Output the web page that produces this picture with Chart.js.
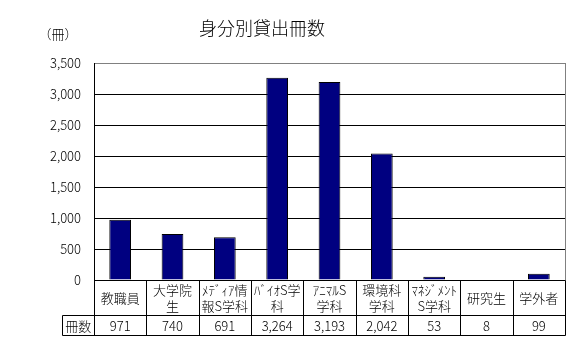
<!DOCTYPE html>
<html><head><meta charset="utf-8">
<script src="https://cdn.jsdelivr.net/npm/chart.js@4"></script>
<style>html,body{margin:0;padding:0;background:#fff}#wrap{width:580px;height:351px;position:relative}</style>
</head><body><div id="wrap"><canvas id="c" width="580" height="351"></canvas></div>
<script>
const title = "身分別貸出冊数";
const unitLabel = "（冊）";
const rowHeader = "冊数";
const categories = [["教職員"],["大学院","生"],["ﾒﾃﾞｨｱ情","報S学科"],["ﾊﾞｲｵS学","科"],["ｱﾆﾏﾙS","学科"],["環境科","学科"],["ﾏﾈｼﾞﾒﾝﾄ","S学科"],["研究生"],["学外者"]];
const values = [971,740,691,3264,3193,2042,53,8,99];
const yTicks = [0,500,1000,1500,2000,2500,3000,3500];

const FONT = '"Noto Sans CJK JP", "Liberation Sans", sans-serif';

const tablePlugin = {
  id: 'tablePlugin',
  afterDraw(chart) {
    const ctx = chart.ctx, ca = chart.chartArea, x = chart.scales.x;
    const n = categories.length;
    const step = (ca.right - ca.left) / n;
    const top = Math.round(ca.bottom) + 0.5;
    const mid = 315.5, bot = 335.5, tl = 62.5;
    ctx.save();
    ctx.strokeStyle = '#808080'; ctx.lineWidth = 1;
    ctx.beginPath(); ctx.moveTo(Math.round(ca.right)+0.5, ca.top); ctx.lineTo(Math.round(ca.right)+0.5, top); ctx.stroke();
    ctx.strokeStyle = '#000';
    ctx.beginPath();
    for (let i = 0; i <= n; i++) {
      const px = Math.round(ca.left + i*step) + 0.5;
      ctx.moveTo(px, top); ctx.lineTo(px, bot);
    }
    ctx.moveTo(tl, mid); ctx.lineTo(tl, bot);
    ctx.moveTo(tl, mid); ctx.lineTo(Math.round(ca.right)+0.5, mid);
    ctx.moveTo(tl, bot); ctx.lineTo(Math.round(ca.right)+0.5, bot);
    ctx.moveTo(Math.round(ca.left)+0.5, top); ctx.lineTo(Math.round(ca.right)+0.5, top);
    ctx.stroke();
    ctx.fillStyle = '#000';
    ctx.font = '300 13px ' + FONT;
    ctx.textAlign = 'center'; ctx.textBaseline = 'middle';
    for (let i = 0; i < n; i++) {
      const cx = x.getPixelForValue(i);
      const lines = categories[i];
      if (lines.length === 1) ctx.fillText(lines[0], cx, 298);
      else { ctx.fillText(lines[0], cx, 290); ctx.fillText(lines[1], cx, 306); }
      ctx.fillText(values[i].toLocaleString('en-US'), cx, 326);
    }
    ctx.fillText(rowHeader, (tl + ca.left)/2, 326);
    ctx.font = '300 18px ' + FONT;
    ctx.fillText(title, 262, 28);
    ctx.font = '300 13px ' + FONT;
    ctx.fillText(unitLabel, 58, 34);
    ctx.restore();
  }
};

new Chart(document.getElementById('c'), {
  type: 'bar',
  data: {
    labels: categories.map(c => c.join('')),
    datasets: [{
      data: values,
      backgroundColor: '#000080',
      borderColor: '#000',
      borderWidth: 1,
      categoryPercentage: 1,
      barPercentage: 0.415
    }]
  },
  options: {
    responsive: false,
    animation: false,
    devicePixelRatio: 1,
    layout: { padding: { top: 63, bottom: 71, right: 15, left: 0 } },
    plugins: { legend: { display: false }, title: { display: false }, tooltip: { enabled: false } },
    scales: {
      x: { display: false },
      y: {
        min: 0, max: 3500,
        afterBuildTicks(s) { s.ticks = yTicks.map(v => ({ value: v })); },
        afterFit(s) { s.width = 94; },
        ticks: {
          padding: 13, color: '#000',
          font: { family: FONT, size: 13, weight: '300' },
          callback: v => v.toLocaleString('en-US')
        },
        grid: {
          drawTicks: false,
          color: ctx => ctx.tick && ctx.tick.value === 3500 ? '#808080' : (ctx.tick && ctx.tick.value === 0 ? 'rgba(0,0,0,0)' : '#000'),
          lineWidth: 1
        },
        border: { color: '#000' }
      }
    }
  },
  plugins: [tablePlugin]
});
</script></body></html>
